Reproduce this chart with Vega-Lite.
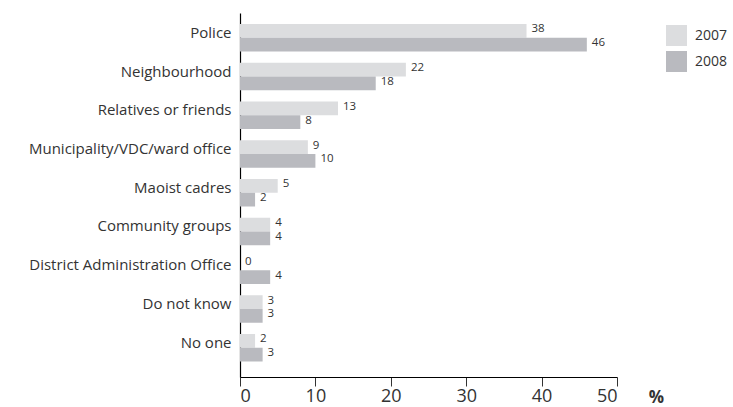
{
  "$schema": "https://vega.github.io/schema/vega-lite/v6.json",
  "width": 377,
  "height": 364,
  "autosize": {"type": "none"},
  "padding": {"left": 240, "top": 13, "right": 116, "bottom": 30},
  "background": "white",
  "config": {"view": {"stroke": null}, "font": "Open Sans"},
  "data": {"values": [
    {"cat": "Police", "year": "2007", "v": 38},
    {"cat": "Police", "year": "2008", "v": 46},
    {"cat": "Neighbourhood", "year": "2007", "v": 22},
    {"cat": "Neighbourhood", "year": "2008", "v": 18},
    {"cat": "Relatives or friends", "year": "2007", "v": 13},
    {"cat": "Relatives or friends", "year": "2008", "v": 8},
    {"cat": "Municipality/VDC/ward office", "year": "2007", "v": 9},
    {"cat": "Municipality/VDC/ward office", "year": "2008", "v": 10},
    {"cat": "Maoist cadres", "year": "2007", "v": 5},
    {"cat": "Maoist cadres", "year": "2008", "v": 2},
    {"cat": "Community groups", "year": "2007", "v": 4},
    {"cat": "Community groups", "year": "2008", "v": 4},
    {"cat": "District Administration Office", "year": "2007", "v": 0},
    {"cat": "District Administration Office", "year": "2008", "v": 4},
    {"cat": "Do not know", "year": "2007", "v": 3},
    {"cat": "Do not know", "year": "2008", "v": 3},
    {"cat": "No one", "year": "2007", "v": 2},
    {"cat": "No one", "year": "2008", "v": 3}
  ]},
  "encoding": {
    "y": {
      "field": "cat", "type": "nominal", "sort": null,
      "scale": {"paddingInner": 0.29, "paddingOuter": 0.342, "align": 0.415},
      "axis": {"title": null, "ticks": false, "labelPadding": 9, "labelOffset": -5, "labelFontSize": 15, "labelLimit": 400, "labelColor": "#333333", "domainColor": "#000000", "domainWidth": 1.2, "grid": false}
    },
    "yOffset": {"field": "year", "type": "nominal", "scale": {"paddingInner": 0, "paddingOuter": 0}},
    "x": {
      "field": "v", "type": "quantitative",
      "scale": {"domain": [0, 50], "nice": false},
      "axis": {"values": [0, 10, 20, 30, 40, 50], "grid": false, "title": "%", "titleFontSize": 17, "titleFontWeight": "bold", "titleColor": "#333333", "titleX": 416, "titleY": 25, "titleAlign": "center", "titleBaseline": "alphabetic", "labelFontSize": 18, "labelColor": "#333333", "tickSize": 9, "tickColor": "#333333", "domainColor": "#000000", "domainWidth": 1.2, "labelPadding": 1}
    }
  },
  "layer": [
    {
      "mark": {"type": "bar"},
      "encoding": {
        "color": {
          "field": "year", "type": "nominal",
          "scale": {"domain": ["2007", "2008"], "range": ["#dcdddf", "#b9babf"]},
          "legend": {"title": null, "orient": "none", "legendX": 426, "legendY": 12, "symbolType": "square", "symbolSize": 440, "symbolStrokeWidth": 0, "labelFontSize": 14, "labelColor": "#333333", "rowPadding": 5, "labelOffset": 8}
        }
      }
    },
    {
      "mark": {"type": "text", "align": "left", "baseline": "middle", "dx": 5, "dy": -1.5, "fontSize": 11.5, "fill": "#333333"},
      "encoding": {"text": {"field": "v", "type": "quantitative"}}
    }
  ]
}
